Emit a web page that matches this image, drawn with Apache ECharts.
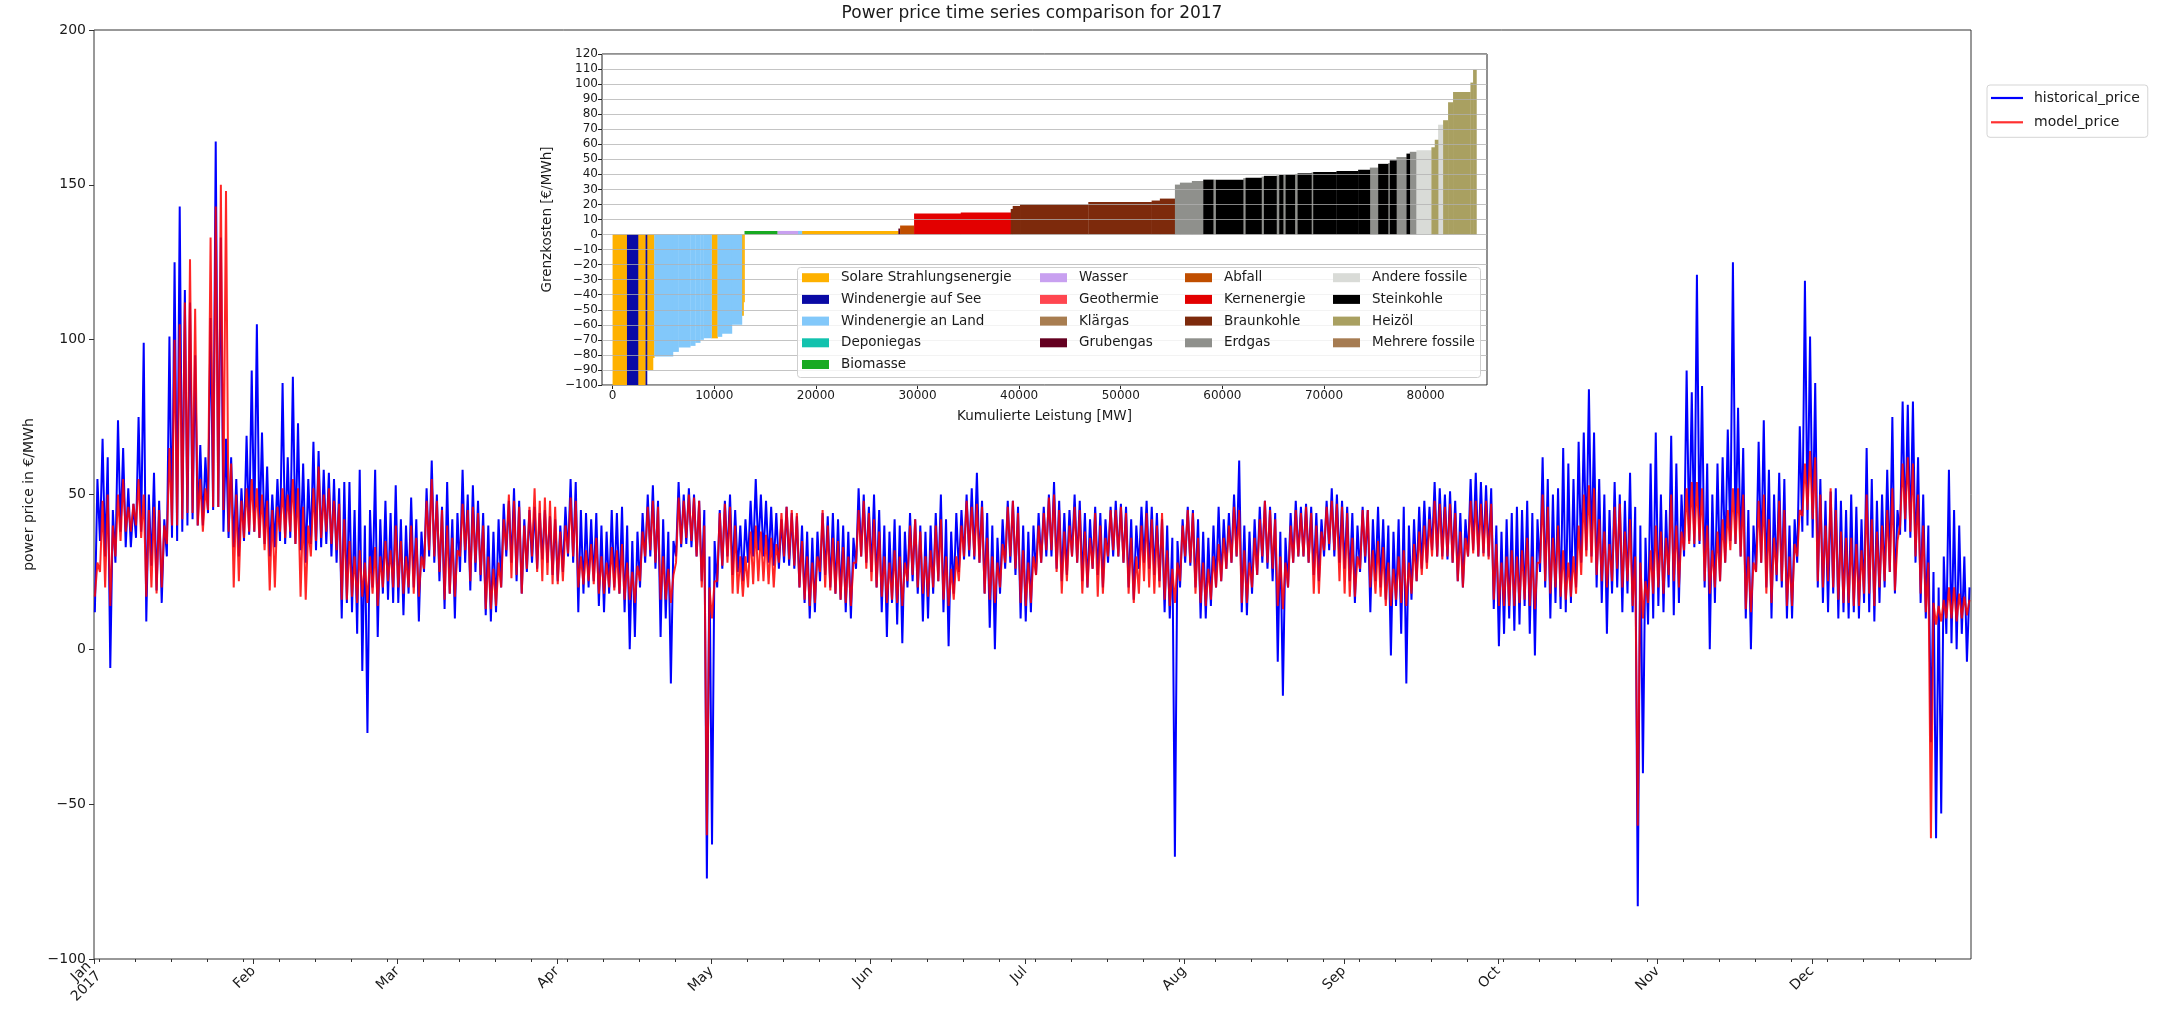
<!DOCTYPE html>
<html><head><meta charset="utf-8">
<script src="https://cdn.jsdelivr.net/npm/echarts@6/dist/echarts.min.js"></script>
<style>html,body{margin:0;padding:0;background:#fff}#c{width:2161px;height:1017px}</style>
</head><body><div id="c"></div>
<script>
// ---------- main time series: daily high / low ----------
const months = ['Jan','Feb','Mar','Apr','May','Jun','Jul','Aug','Sep','Oct','Nov','Dec'];
const histHigh = [
 55,68,62,45,74,65,52,47,75,99,50,57,48,42,101,125,143,116,112,95,66,62,107,164,133,68,62,55,52,69,90,
 105,70,59,50,55,86,62,88,73,60,55,67,64,58,57,55,52,54,54,45,58,40,45,58,42,48,44,53,
 42,40,49,42,38,52,61,50,46,54,42,44,58,50,53,48,44,40,38,42,47,48,52,48,42,45,46,44,45,43,42,
 40,46,55,54,45,44,42,44,40,38,45,44,46,40,35,38,44,50,53,48,42,38,35,54,50,52,50,48,45,30,
 35,45,48,50,45,40,42,48,55,50,48,46,44,42,46,44,43,40,38,36,38,44,43,44,42,40,38,36,52,50,46,
 50,45,40,38,42,40,38,44,42,40,38,40,44,50,42,38,44,45,50,52,57,48,44,40,36,42,48,48,46,40,
 38,40,44,46,50,54,48,44,45,50,48,44,42,46,44,42,46,48,47,46,42,40,46,48,46,44,42,40,36,35,42,
 46,45,42,38,36,40,46,42,44,50,61,40,38,42,46,48,46,44,38,36,44,48,46,47,46,44,42,48,52,50,48,
 46,44,40,46,45,42,46,42,40,38,42,46,40,42,46,48,46,54,52,50,51,48,44,42,55,57,54,53,52,40,
 38,42,44,46,45,48,44,42,62,55,50,52,65,60,55,67,70,84,70,55,50,45,54,50,48,57,46,40,36,60,70,
 50,45,69,60,50,90,83,121,85,60,50,60,62,71,125,78,65,45,40,67,74,58,50,57,55,40,42,72,119,101,
 86,55,48,51,52,48,45,50,46,42,65,55,48,50,58,75,45,80,79,80,62,50,40,25,20,30,58,45,40,30,20
];
const histLow = [
 12,35,30,-6,28,38,33,33,36,38,9,27,19,15,30,36,35,38,40,42,40,40,44,45,46,38,36,33,30,35,37,
 38,36,34,30,33,35,34,36,34,32,28,34,32,33,34,30,28,10,15,12,5,-7,-27,20,4,18,16,15,
 15,11,18,20,9,25,30,28,22,13,18,10,25,28,19,25,22,11,9,12,20,30,28,22,18,25,28,26,29,28,24,
 22,25,30,28,12,18,20,22,14,12,18,20,18,12,0,4,20,28,30,26,4,10,-11,30,33,34,33,30,22,-74,
 -63,20,26,30,24,25,22,28,30,32,30,28,27,26,28,27,26,20,15,10,12,22,24,20,18,16,12,10,26,30,28,
 25,20,12,4,15,8,2,20,22,18,9,10,18,22,12,1,18,25,29,30,29,28,18,7,0,18,26,28,24,10,
 9,12,24,28,30,30,26,22,24,30,28,22,20,26,24,20,28,30,30,28,20,16,26,28,26,24,22,12,10,-67,20,
 28,27,20,10,10,14,20,22,26,28,30,12,11,18,24,28,26,22,-4,-15,20,28,30,30,28,24,22,30,32,30,28,
 26,22,15,25,28,12,22,20,16,-2,14,5,-11,16,22,26,28,32,30,30,29,28,22,20,30,32,30,31,30,13,
 1,5,10,6,8,14,5,-2,25,20,10,15,13,12,15,20,28,32,30,20,15,5,18,20,12,18,12,-83,-40,8,10,
 14,12,20,11,15,30,35,33,34,20,0,15,22,28,35,34,30,10,0,25,28,20,10,22,20,10,10,28,38,40,
 36,20,15,12,18,10,12,10,12,10,15,12,9,15,20,25,18,37,38,36,28,15,10,-30,-61,-53,5,2,0,5,-4
];
const modelHigh = [
 28,48,50,40,50,55,46,47,55,50,45,46,45,40,65,100,105,112,126,110,55,52,133,143,150,148,60,50,48,52,55,
 52,50,48,45,46,52,50,55,52,46,40,52,59,50,52,48,47,42,35,30,32,28,30,33,30,35,32,40,
 35,30,40,36,30,48,55,48,45,40,36,32,47,45,46,44,40,30,26,28,42,50,48,46,40,46,52,48,49,48,46,
 38,40,49,48,30,32,34,36,30,28,33,32,34,28,25,27,38,46,48,46,30,26,24,49,48,50,49,48,40,20,
 22,44,47,46,40,30,30,38,40,38,37,36,34,44,46,45,44,35,30,28,30,45,40,36,35,33,30,28,45,48,44,
 42,38,30,28,32,30,28,40,42,38,30,32,40,42,30,26,30,40,48,46,47,46,36,30,28,34,46,48,44,32,
 28,30,40,44,49,50,45,38,40,46,45,38,36,44,40,36,45,45,46,44,36,30,40,44,42,40,44,32,26,28,40,
 45,44,36,28,26,30,34,36,40,46,45,32,28,36,42,48,45,42,30,28,40,45,44,46,44,40,38,46,48,47,46,
 44,36,30,45,45,32,35,33,28,26,30,32,28,34,38,40,42,48,47,46,47,44,38,36,48,48,47,48,47,34,
 28,30,32,30,32,36,30,28,50,46,36,40,32,28,30,40,50,53,52,42,38,34,46,47,38,42,30,28,22,32,40,
 38,36,50,40,38,52,54,54,52,40,32,38,42,45,52,52,50,30,28,48,50,42,36,48,45,30,34,45,60,64,
 62,50,40,52,45,38,36,36,34,32,50,42,38,40,45,52,35,60,62,60,50,40,28,15,14,16,20,20,18,17,16
];
const modelLow = [
 17,25,20,14,30,35,38,38,40,36,17,20,18,20,34,40,40,42,44,44,40,38,45,46,46,45,38,20,22,36,38,
 38,36,32,19,20,38,36,38,34,17,16,30,35,36,38,34,32,16,16,17,15,17,15,18,14,20,22,20,
 20,18,20,18,17,26,32,30,25,16,18,17,30,32,22,28,24,13,13,14,20,32,23,24,18,26,30,25,22,24,21,
 21,22,31,30,20,21,22,21,18,18,20,19,18,16,16,15,22,30,32,28,16,16,15,28,34,36,35,30,20,-60,
 10,22,27,28,18,18,17,20,21,22,22,21,20,28,30,29,27,20,16,14,15,25,20,19,18,16,15,14,28,30,26,
 22,20,17,15,16,15,14,22,24,20,18,17,20,22,16,14,16,22,30,32,30,28,18,16,15,20,28,30,26,15,
 14,15,24,28,32,32,25,18,22,30,28,18,20,26,17,18,30,32,30,28,18,15,18,22,20,18,20,16,14,15,22,
 30,28,18,15,14,16,20,22,26,28,30,15,15,20,24,30,28,26,14,13,20,28,30,30,28,18,18,32,34,32,22,
 18,17,17,26,30,20,18,17,14,14,16,15,14,18,22,24,26,30,30,29,30,28,22,20,30,31,30,30,29,16,
 14,14,14,14,15,16,14,13,28,22,18,20,17,16,17,18,24,30,28,24,22,20,22,26,20,22,14,-57,10,15,18,
 20,18,24,22,20,32,34,34,35,22,18,20,22,28,32,34,30,13,12,25,28,18,15,24,22,14,14,30,43,45,
 42,22,20,22,20,16,15,15,14,14,18,18,14,20,22,25,19,40,42,38,30,18,12,-61,8,9,10,10,9,10,11
];

// ---------- inset: merit order ----------
const techNames = ['Solare Strahlungsenergie','Windenergie auf See','Windenergie an Land','Deponiegas','Biomasse',
  'Wasser','Geothermie','Klärgas','Grubengas',
  'Abfall','Kernenergie','Braunkohle','Erdgas',
  'Andere fossile','Steinkohle','Heizöl','Mehrere fossile'];
// [cumulative MW start, cumulative MW end, marginal cost, technology index]
const meritSteps = [
 [0,1416,-100,0],[1416,2497,-100,1],[2497,3245,-100,0],[3245,3384,-100,1],[3384,3975,-90,0],[3975,4100,-82,0],
 [4100,5940,-81,2],[5940,6490,-78,2],[6490,7640,-75,2],[7640,8130,-74,2],[8130,8620,-72,2],[8620,8950,-70,2],
 [8950,9735,-69,2],[9735,10325,-69,0],[10325,10760,-68,2],[10760,11740,-66,2],[11740,12725,-60,2],
 [12725,12885,-54,0],[12885,12980,-45,0],
 [12980,16225,2.4,4],[16225,18230,2.4,5],[18230,18625,2.4,2],[18625,28120,2.4,0],[28120,28290,4,8],
 [28290,29665,6,9],[29665,34260,14,10],[34260,39175,14.6,10],
 [39175,39370,17,11],[39370,40090,19,11],[40090,46810,20,11],[46810,53040,21.7,11],[53040,53850,22.6,11],[53850,55331,23.9,11],
 [55331,55823,33.2,12],[55823,57000,34.5,12],[57000,58118,35.6,12],
 [58118,59100,36.5,14],[59100,59364,36.5,12],[59364,62050,36.5,14],[62050,62280,37.5,12],[62280,63855,37.8,14],
 [63855,64085,38.5,12],[64085,65330,39,14],[65330,65590,39.3,12],[65590,65985,39.6,14],[65985,66215,39.6,12],
 [66215,67130,39.8,14],[67130,67395,40.3,12],[67395,68770,40.7,14],[68770,68935,41.3,12],[68935,71230,41.6,14],
 [71230,73360,42.3,14],[73360,74510,43.1,14],[74510,75330,44.5,12],[75330,76310,47,14],[76310,76475,47.5,12],
 [76475,77130,49.3,14],[77130,78115,51.5,12],[78115,78440,53.8,14],[78440,79100,55,12],
 [79100,80570,56,13],[80570,80900,58,15],[80900,81230,63,15],[81230,81720,73,13],[81720,82210,76,15],
 [82210,82700,88,15],[82700,84410,94.7,15],[84410,84670,101,15],[84670,85000,109.5,15]
];
const meritXTicks = [0,10000,20000,30000,40000,50000,60000,70000,80000];

// ---------- styles ----------
const FONT = 'DejaVu Sans';
const TXT = '#1a1a1a';
const techColors = ['#feb100','#0a0aa5','#82c8fa','#12c2ae','#18aa22','#c8a0f0','#ff4650','#a87d50','#640020',
  '#c04e00','#e30000','#7d2a0c','#8f908c','#d9dbd7','#000000','#a9a061','#a67c52'];

const DAY = 864e5, H = 36e5;
const t0 = Date.UTC(2017,0,1), t1 = Date.UTC(2017,11,31,23);
function build(hi, lo){
  const out = [];
  for (let d = 0; d < hi.length; d++){
    out.push([t0 + d*DAY + 4*H, lo[d]]);
    out.push([t0 + d*DAY + 16*H, hi[d]]);
  }
  return out;
}
const monthStarts = months.map((m,i) => Date.UTC(2017,i,1));
const mondays = [];
for (let t = Date.UTC(2017,0,2); t <= t1; t += 7*DAY) mondays.push(t);
const minusFmt = v => v < 0 ? '\u2212' + (-v) : String(v);

function renderStep(params, api){
  const a = api.coord([api.value(0), 0]);
  const b = api.coord([api.value(1), api.value(2)]);
  return {type:'rect',
    shape:{x:a[0], y:Math.min(a[1],b[1]), width:b[0]-a[0]+0.3, height:Math.abs(b[1]-a[1])},
    style:{fill: api.visual('color')}};
}
const meritSeries = techNames.map((name,k) => ({
  type:'custom', name, xAxisIndex:2, yAxisIndex:1, renderItem:renderStep, clip:true, silent:true,
  itemStyle:{color: techColors[k]}, encode:{x:[0,1], y:2},
  data: meritSteps.filter(s => s[3] === k).map(s => [s[0], s[1], s[2]])
}));

function insetLegend(left, names){
  return {show:true, orient:'vertical', left:left, top:270.7, padding:0, itemGap:7.7,
    itemWidth:27, itemHeight:9, icon:'rect', selectedMode:false, z:12, data:names,
    textStyle:{fontFamily:FONT, fontSize:13.5, color:TXT, lineHeight:14, padding:[0,0,0,7]}};
}

const option = {
  animation:false,
  backgroundColor:'#fff',
  textStyle:{fontFamily:FONT},
  title:{text:'Power price time series comparison for 2017', left:1032, top:5, textAlign:'center', padding:0,
    textStyle:{fontFamily:FONT, fontSize:17, fontWeight:'normal', color:TXT}},
  grid:[
    {left:94, top:30, width:1877, height:929, show:true, borderColor:'#333', borderWidth:1, backgroundColor:'transparent'},
    {left:602, top:54, width:885, height:331, show:true, borderColor:'#222', borderWidth:1, backgroundColor:'#fff'}
  ],
  legend:[
    {orient:'vertical', left:1987, top:85, padding:[6,8,8,4], itemGap:10.3, itemWidth:32, itemHeight:2.2,
      icon:'rect', borderColor:'#d5d5d5', borderWidth:1, borderRadius:3, backgroundColor:'#fff', selectedMode:false,
      data:['historical_price','model_price'],
      textStyle:{fontFamily:FONT, fontSize:14, color:TXT, lineHeight:14, padding:[0,0,0,6]}},
    insetLegend(802, techNames.slice(0,5)),
    insetLegend(1040, techNames.slice(5,9)),
    insetLegend(1185, techNames.slice(9,13)),
    insetLegend(1333, techNames.slice(13,17))
  ],
  graphic:[{type:'rect', left:797, top:267, z:10, silent:true,
    shape:{width:683, height:110, r:3}, style:{fill:'rgba(255,255,255,0.8)', stroke:'#cfcfcf', lineWidth:1}}],
  xAxis:[
    {type:'value', gridIndex:0, min:t0, max:t1, position:'bottom',
      axisLine:{show:false, onZero:false}, splitLine:{show:false},
      axisTick:{show:true, customValues:monthStarts, length:5, lineStyle:{color:'#333'}},
      axisLabel:{customValues:monthStarts, rotate:45, margin:10, fontSize:14, color:TXT, fontFamily:FONT,
        formatter: v => { const m = new Date(v).getUTCMonth(); return m === 0 ? 'Jan\n2017' : months[m]; }}},
    {type:'value', gridIndex:0, min:t0, max:t1, position:'bottom',
      axisLine:{show:false, onZero:false}, splitLine:{show:false},
      axisTick:{show:true, customValues:mondays, length:3, lineStyle:{color:'#333'}},
      axisLabel:{show:false}},
    {type:'value', gridIndex:1, min:-1042, max:86040, position:'bottom',
      axisLine:{show:false, onZero:false}, splitLine:{show:false},
      axisTick:{show:true, customValues:meritXTicks, length:4, lineStyle:{color:'#222'}},
      axisLabel:{customValues:meritXTicks, fontSize:12, color:TXT, fontFamily:FONT, margin:5, formatter: v => String(v)},
      name:'Kumulierte Leistung [MW]', nameLocation:'middle', nameGap:24,
      nameTextStyle:{fontSize:13.5, color:TXT, fontFamily:FONT}}
  ],
  yAxis:[
    {type:'value', gridIndex:0, min:-100, max:200, interval:50,
      axisLine:{show:false, onZero:false}, splitLine:{show:false},
      axisTick:{show:true, length:5, lineStyle:{color:'#333'}},
      axisLabel:{fontSize:14, color:TXT, fontFamily:FONT, formatter:minusFmt, margin:8},
      name:'power price in €/MWh', nameLocation:'middle', nameGap:58, nameRotate:90,
      nameTextStyle:{fontSize:14, color:TXT, fontFamily:FONT}},
    {type:'value', gridIndex:1, min:-100, max:120, interval:10, z:3,
      axisLine:{show:false, onZero:false},
      splitLine:{show:true, lineStyle:{color:'rgba(176,176,176,0.75)', width:1.2}},
      axisTick:{show:true, length:4, lineStyle:{color:'#222'}},
      axisLabel:{fontSize:12, color:TXT, fontFamily:FONT, formatter:minusFmt, margin:4},
      name:'Grenzkosten [€/MWh]', nameLocation:'middle', nameGap:48, nameRotate:90,
      nameTextStyle:{fontSize:13.5, color:TXT, fontFamily:FONT}}
  ],
  series:[
    {type:'line', name:'historical_price', xAxisIndex:0, yAxisIndex:0, data:build(histHigh, histLow),
      symbol:'none', showSymbol:false, silent:true, clip:true, color:'#0000ff',
      itemStyle:{color:'#0000ff'}, lineStyle:{color:'#0000ff', width:2}},
    {type:'line', name:'model_price', xAxisIndex:0, yAxisIndex:0, data:build(modelHigh, modelLow),
      symbol:'none', showSymbol:false, silent:true, clip:true, color:'#ff0000',
      itemStyle:{color:'#ff3030'}, lineStyle:{color:'#ff0000', width:2, opacity:0.85}},
    ...meritSeries
  ]
};
const chart = echarts.init(document.getElementById('c'));
chart.setOption(option);
</script>
</body></html>
